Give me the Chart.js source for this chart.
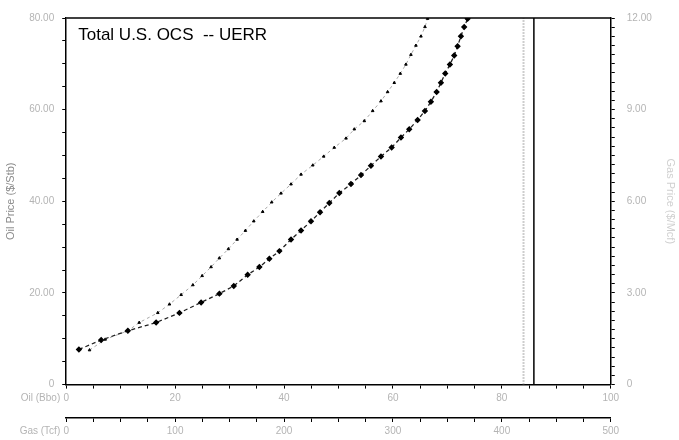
<!DOCTYPE html>
<html>
<head>
<meta charset="utf-8">
<script src="https://cdn.jsdelivr.net/npm/chart.js@4"></script>
<style>
  html, body { margin: 0; padding: 0; background: #fff; }
  #wrap { width: 679px; height: 440px; position: relative; }
</style>
</head>
<body>
<div id="wrap"><canvas id="uerrChart"></canvas></div>
<script>
// Oil price-supply curve (Bbo vs $/Stb)
const oilBbo = [2.33, 6.42, 11.32, 16.51, 20.79, 24.77, 28.13, 30.77, 33.32, 35.47, 37.30, 39.14, 41.28, 43.12,
    44.95, 46.61, 48.31, 50.15, 52.29, 54.13, 55.96, 57.80, 59.76, 61.47, 62.99, 64.53, 65.87, 66.97, 68.02,
    68.81, 69.60, 70.46, 71.25, 71.87, 72.48, 73.08, 73.71];
const oilPrice = [7.67, 9.72, 11.74, 13.54, 15.65, 17.93, 19.85, 21.52, 23.98, 25.65, 27.46, 29.13, 31.67, 33.63,
    35.65, 37.61, 39.63, 41.80, 43.76, 45.72, 47.76, 49.78, 51.74, 53.91, 55.72, 57.76, 59.72, 61.74, 63.85,
    65.87, 67.89, 69.85, 71.80, 73.85, 76.02, 78.04, 79.85];

// Gas price-supply curve (Tcf vs $/Mcf)
const gasTcf = [21.4, 35.8, 56.6, 67.0, 84.1, 94.8, 105.5, 116.3, 124.8, 133.0, 140.6, 148.9, 156.9, 164.5,
    172.2, 180.4, 188.7, 197.2, 206.4, 215.6, 226.4, 236.4, 246.1, 256.9, 264.5, 273.7, 281.4, 289.0, 295.1,
    301.2, 306.7, 311.9, 316.5, 321.1, 325.7, 329.4, 331.8];
const gasPrice = [1.13, 1.48, 1.76, 2.03, 2.35, 2.63, 2.94, 3.26, 3.56, 3.85, 4.14, 4.44, 4.75, 5.04,
    5.35, 5.66, 5.97, 6.26, 6.56, 6.88, 7.18, 7.47, 7.76, 8.06, 8.36, 8.63, 8.96, 9.28, 9.58,
    9.88, 10.18, 10.48, 10.80, 11.10, 11.40, 11.71, 11.98];

// technically recoverable totals (vertical lines)
const oilTrr = 85.88;
const gasTrr = 419.88;

const oilQtyTicks = [0, 20, 40, 60, 80, 100];
const gasQtyTicks = [0, 100, 200, 300, 400, 500];
const oilPriceTicks = [0, 20, 40, 60, 80];
const gasPriceTicks = [0, 3, 6, 9, 12];

const labelGray = "#b4b4b4";
const isMajor = (v, list) => list.some(t => Math.abs(t - v) < 1e-6);

// frame line on top + in-plot caption + left labels of the quantity axes
const extras = {
    id: "extras",
    afterDraw(chart) {
        const ctx = chart.ctx;
        const a = chart.chartArea;
        ctx.save();
        ctx.strokeStyle = "#000";
        ctx.lineWidth = 1.5;
        ctx.beginPath();
        ctx.moveTo(a.left, a.top);
        ctx.lineTo(a.right, a.top);
        ctx.stroke();

        ctx.fillStyle = "#000";
        ctx.font = "17px 'Liberation Sans', Arial, sans-serif";
        ctx.textBaseline = "alphabetic";
        ctx.fillText("Total U.S. OCS  -- UERR", a.left + 12, a.top + 22);

        ctx.fillStyle = labelGray;
        ctx.font = "10px 'Liberation Sans', Arial, sans-serif";
        ctx.textAlign = "right";
        ctx.textBaseline = "middle";
        const x = chart.scales.x, x2 = chart.scales.x2;
        ctx.fillText("Oil (Bbo)", x.getPixelForValue(0) - 6, x.top + 14);
        ctx.fillText("Gas (Tcf)", x2.getPixelForValue(0) - 6, x2.top + 13);
        ctx.restore();
    }
};

const axisGrid = { drawOnChartArea: false, drawTicks: true, tickLength: 4, color: "#000", lineWidth: 1 };
const axisBorder = { display: true, color: "#000", width: 1.5 };
const tickFont = { family: "'Liberation Sans', Arial, sans-serif", size: 10 };

new Chart(document.getElementById("uerrChart"), {
    type: "line",
    data: {
        datasets: [
            {
                label: "Oil",
                data: oilBbo.map((v, i) => ({ x: v, y: oilPrice[i] })),
                xAxisID: "x", yAxisID: "y",
                borderColor: "#222", borderWidth: 1.3, borderDash: [4, 3],
                pointStyle: "rectRot", pointRadius: 2.3, pointBackgroundColor: "#000", pointBorderColor: "#000",
                tension: 0
            },
            {
                label: "Gas",
                data: gasTcf.map((v, i) => ({ x: v, y: gasPrice[i] })),
                xAxisID: "x2", yAxisID: "y2",
                borderColor: "#a8a8a8", borderWidth: 1, borderDash: [3, 3],
                pointStyle: "triangle", pointRadius: 1.5, pointBackgroundColor: "#000", pointBorderColor: "#000",
                tension: 0
            },
            {
                label: "Oil TRR",
                data: [{ x: oilTrr, y: 0 }, { x: oilTrr, y: 80 }],
                xAxisID: "x", yAxisID: "y",
                borderColor: "#000", borderWidth: 1.5, pointRadius: 0
            },
            {
                label: "Gas TRR",
                data: [{ x: gasTrr, y: 0 }, { x: gasTrr, y: 12 }],
                xAxisID: "x2", yAxisID: "y2",
                borderColor: "#9c9c9c", borderWidth: 2, borderDash: [1, 2], pointRadius: 0
            }
        ]
    },
    options: {
        responsive: true,
        maintainAspectRatio: false,
        animation: false,
        layout: { autoPadding: false, padding: { top: 15, right: 0, left: 0, bottom: 0 } },
        plugins: { legend: { display: false }, tooltip: { enabled: false } },
        scales: {
            x: {
                type: "linear", position: "bottom", min: 0, max: 100,
                grid: axisGrid, border: axisBorder,
                title: { display: true, text: "", font: { size: 2 }, padding: { top: 3, bottom: 4 } },
                ticks: {
                    stepSize: 5, autoSkip: false, maxRotation: 0, color: labelGray, font: tickFont, padding: 4,
                    callback: v => isMajor(v, oilQtyTicks) ? String(v) : ""
                }
            },
            x2: {
                type: "linear", position: "bottom", min: 0, max: 500,
                grid: axisGrid, border: axisBorder,
                ticks: {
                    stepSize: 25, autoSkip: false, maxRotation: 0, color: labelGray, font: tickFont, padding: 3,
                    callback: v => isMajor(v, gasQtyTicks) ? String(v) : ""
                }
            },
            y: {
                type: "linear", position: "left", min: 0, max: 80,
                grid: axisGrid, border: axisBorder,
                title: { display: true, text: "Oil Price ($/Stb)", color: "#8a8a8a",
                    font: { family: "'Liberation Sans', Arial, sans-serif", size: 11 } },
                ticks: {
                    stepSize: 5, autoSkip: false, color: labelGray, font: tickFont, padding: 8,
                    callback: v => isMajor(v, oilPriceTicks) ? (v === 0 ? "0" : v.toFixed(2)) : ""
                }
            },
            y2: {
                type: "linear", position: "right", min: 0, max: 12,
                grid: axisGrid, border: axisBorder,
                title: { display: true, text: "Gas Price ($/Mcf)", color: "#d0d0d0", padding: { top: 2, bottom: 0 },
                    font: { family: "'Liberation Sans', Arial, sans-serif", size: 11 } },
                ticks: {
                    stepSize: 0.3, autoSkip: false, color: labelGray, font: tickFont, padding: 12,
                    callback: v => isMajor(v, gasPriceTicks) ? (Math.abs(v) < 1e-6 ? "0" : Number(v).toFixed(2)) : ""
                }
            }
        }
    },
    plugins: [extras]
});
</script>
</body>
</html>
